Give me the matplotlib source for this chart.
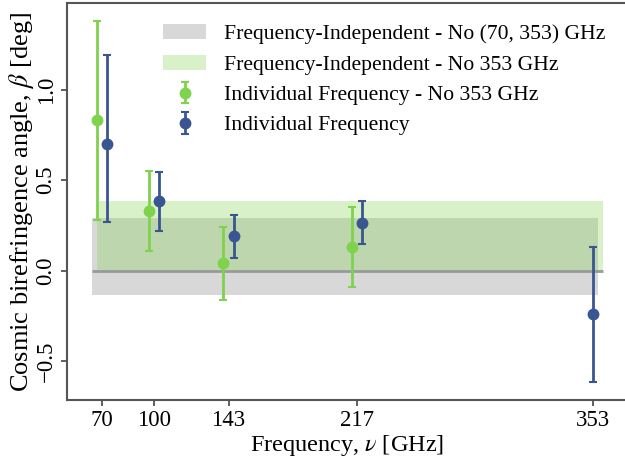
import matplotlib
matplotlib.use("Agg")
import matplotlib.pyplot as plt
import numpy as np

plt.rcParams["font.family"] = "serif"
plt.rcParams["font.serif"] = ["Liberation Serif", "DejaVu Serif"]
plt.rcParams["mathtext.fontset"] = "stix"
plt.rcParams["font.size"] = 16

# Planck frequency channels [GHz]
freq_ticks = [70, 100, 143, 217, 353]

# Individual-frequency fits without 353 GHz
freq_no353 = [70, 100, 143, 217]
beta_no353 = [0.83, 0.33, 0.04, 0.13]
err_no353 = [0.55, 0.22, 0.20, 0.22]

# Individual-frequency fits, all channels
freq_all = [70, 100, 143, 217, 353]
beta_all = [0.70, 0.385, 0.19, 0.265, -0.24]
err_lo_all = [0.43, 0.165, 0.12, 0.12, 0.375]
err_hi_all = [0.49, 0.16, 0.12, 0.12, 0.37]

# Frequency-independent fits (band limits)
band_no70_353 = (-0.135, 0.292)
band_no353 = (0.0, 0.386)

green = "#7fd24c"
blue = "#395692"

fig = plt.figure(figsize=(6.25, 4.63), dpi=100)
ax = fig.add_axes([0.1072, 0.136, 0.8950, 0.858])

shift = 3.0
ax.fill_between([64.5, 355.5], band_no70_353[0], band_no70_353[1],
                color="gray", alpha=0.3, lw=0,
                label="Frequency-Independent - No (70, 353) GHz")
ax.fill_between([67.5, 358.5], band_no353[0], band_no353[1],
                color=green, alpha=0.3, lw=0,
                label="Frequency-Independent - No 353 GHz")
ax.hlines(0.0, 64.5, 358.5, color="#999999", lw=2, zorder=1.5)

x_green = np.array(freq_no353) - shift
ax.errorbar(x_green, beta_no353, yerr=err_no353, fmt="o", color=green,
            ms=7.5, elinewidth=2, capsize=3, capthick=1.5,
            label="Individual Frequency - No 353 GHz", zorder=3)

x_blue = np.array(freq_all, dtype=float) + shift
x_blue[-1] = freq_all[-1]
ax.errorbar(x_blue, beta_all, yerr=[err_lo_all, err_hi_all], fmt="o",
            color=blue, ms=7.5, elinewidth=2, capsize=3, capthick=1.5,
            label="Individual Frequency", zorder=3)

ax.set_xlim(50, 372)
ax.set_ylim(-0.715, 1.48)
ax.set_xticks(freq_ticks)
ax.set_xticklabels([str(f) for f in freq_ticks])
ax.set_yticks([-0.5, 0.0, 0.5, 1.0])
ax.set_yticklabels(["\u22120.5", "0.0", "0.5", "1.0"], rotation=90, va="center")
ax.tick_params(axis="both", colors="#444444", labelcolor="black",
               length=4, width=1.2, labelsize=16.5)

for side in ["left", "bottom", "top"]:
    ax.spines[side].set_color("#555555")
    ax.spines[side].set_linewidth(1.5)
ax.spines["right"].set_visible(False)

ax.set_xlabel(r"Frequency, $\nu$ [GHz]", fontsize=17.5, labelpad=1)
ax.set_ylabel(r"Cosmic birefringence angle, $\beta$ [deg]", fontsize=19, labelpad=0)

ax.legend(loc="upper right", bbox_to_anchor=(0.997, 0.995), frameon=False,
          fontsize=15.6, handlelength=2.0, labelspacing=0.47)

fig.savefig("out.png", dpi=100)
